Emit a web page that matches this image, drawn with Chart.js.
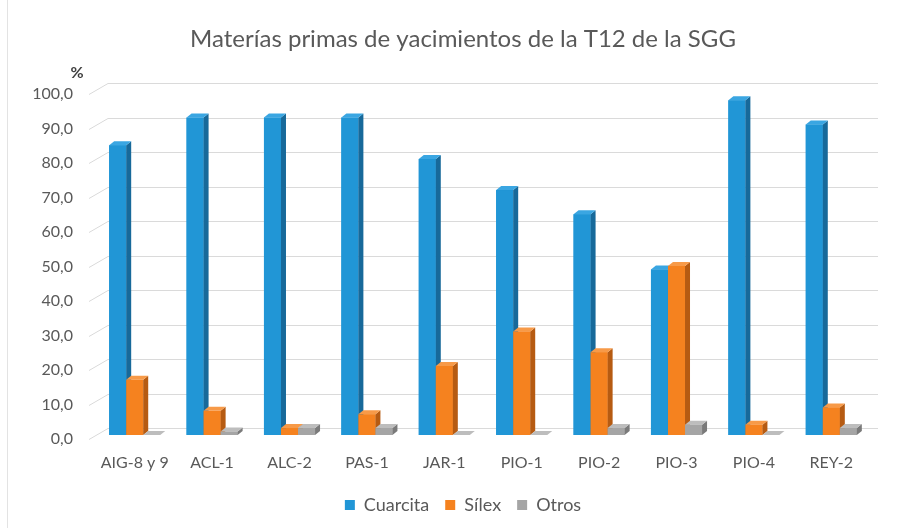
<!DOCTYPE html>
<html>
<head>
<meta charset="utf-8">
<script src="https://cdn.jsdelivr.net/npm/chart.js@4.4.0/dist/chart.umd.min.js"></script>
<style>
  html, body { margin: 0; padding: 0; background: #fff; }
  #wrap { width: 906px; height: 528px; position: relative; }
</style>
</head>
<body>
<div id="wrap"><canvas id="chart"></canvas></div>
<script>
const sites = ["AIG-8 y 9", "ACL-1", "ALC-2", "PAS-1", "JAR-1", "PIO-1", "PIO-2", "PIO-3", "PIO-4", "REY-2"];
const cuarcita = [84, 92, 92, 92, 80, 71, 64, 48, 97, 90];
const silex = [16, 7, 2, 6, 20, 30, 24, 49, 3, 8];
const otros = [0, 1, 2, 2, 0, 0, 2, 3, 0, 2];
const yTicks = [0, 10, 20, 30, 40, 50, 60, 70, 80, 90, 100];

const frontColors = ['#2196d6', '#f5821f', '#a5a5a5'];
const sideColors = ['#17699a', '#b65b12', '#7a7a7a'];
const topColors = ['#3aa6e2', '#f79a48', '#bdbdbd'];
const DX = 5, DY = 4;

// back wall grid + 3d faces of the bars
const depth3d = {
    id: 'depth3d',
    beforeDatasetsDraw(chart) {
        const {ctx, chartArea: a, scales: {y}} = chart;
        ctx.save();
        ctx.strokeStyle = '#dadada';
        ctx.lineWidth = 1;
        yTicks.forEach(v => {
            const py = Math.round(y.getPixelForValue(v)) + 0.5;
            ctx.beginPath();
            ctx.moveTo(a.left - 7, py + 4);
            ctx.lineTo(a.left + 12, py - 7);
            ctx.lineTo(a.right + 8, py - 7);
            ctx.stroke();
        });
        ctx.restore();
    },
    afterDatasetsDraw(chart) {
        const {ctx} = chart;
        ctx.save();
        chart.data.datasets.forEach((ds, i) => {
            const meta = chart.getDatasetMeta(i);
            meta.data.forEach(bar => {
                const {x, y, base, width} = bar.getProps(['x', 'y', 'base', 'width'], true);
                const l = x - width / 2, r = x + width / 2;
                ctx.fillStyle = frontColors[i];
                ctx.fillRect(l, y, width, base - y);
                ctx.fillStyle = sideColors[i];
                ctx.beginPath();
                ctx.moveTo(r, base); ctx.lineTo(r + DX, base - DY);
                ctx.lineTo(r + DX, y - DY); ctx.lineTo(r, y);
                ctx.closePath(); ctx.fill();
                ctx.fillStyle = topColors[i];
                ctx.beginPath();
                ctx.moveTo(l, y); ctx.lineTo(l + DX, y - DY);
                ctx.lineTo(r + DX, y - DY); ctx.lineTo(r, y);
                ctx.closePath(); ctx.fill();
            });
        });
        ctx.restore();
    },
    afterDraw(chart) {
        const {ctx} = chart;
        ctx.save();
        ctx.strokeStyle = '#e3e3e3';
        ctx.beginPath();
        ctx.moveTo(7.5, 0); ctx.lineTo(7.5, 528);
        ctx.stroke();
        ctx.fillStyle = '#404040';
        ctx.font = 'bold 16px Lato';
        ctx.textAlign = 'center';
        ctx.textBaseline = 'middle';
        ctx.fillText('%', 77, 73);
        ctx.restore();
    }
};

new Chart(document.getElementById('chart'), {
    type: 'bar',
    data: {
        labels: sites,
        datasets: [
            { label: 'Cuarcita', data: cuarcita, backgroundColor: frontColors[0] },
            { label: 'Sílex', data: silex, backgroundColor: frontColors[1] },
            { label: 'Otros', data: otros, backgroundColor: frontColors[2] }
        ]
    },
    options: {
        responsive: true, maintainAspectRatio: false, animation: false,
        layout: { padding: { left: 20, right: 0, top: 0, bottom: 4 } },
        datasets: { bar: { barPercentage: 1, categoryPercentage: 0.66, borderWidth: 0 } },
        plugins: {
            title: {
                display: true, text: 'Materías primas de yacimientos de la T12 de la SGG',
                color: '#595959', font: { family: 'Lato', size: 24, weight: 'normal' },
                padding: { top: 25, bottom: 36.2 }
            },
            legend: {
                position: 'bottom',
                labels: { color: '#595959', font: { family: 'Lato', size: 18 }, boxWidth: 10, boxHeight: 10, padding: 16 }
            },
            tooltip: { enabled: false }
        },
        scales: {
            x: {
                grid: { display: false }, border: { display: false },
                ticks: { color: '#595959', font: { family: 'Lato', size: 16 }, padding: 10, maxRotation: 0 },
                afterFit(s) { s.height = 45; s.paddingLeft = 0; s.paddingRight = 0; }
            },
            y: {
                min: 0, max: 100,
                grid: { display: false }, border: { display: false },
                ticks: {
                    stepSize: 10, color: '#595959', font: { family: 'Lato', size: 16 }, padding: 15, labelOffset: 4,
                    callback: v => v.toFixed(1).replace('.', ',')
                },
                afterFit(s) { s.width = 76; s.paddingTop = 0; s.paddingBottom = 0; }
            },
            y2: {
                position: 'right', display: true,
                grid: { display: false }, border: { display: false }, ticks: { display: false },
                afterFit(s) { s.width = 36; }
            }
        }
    },
    plugins: [depth3d]
});
</script>
</body>
</html>
